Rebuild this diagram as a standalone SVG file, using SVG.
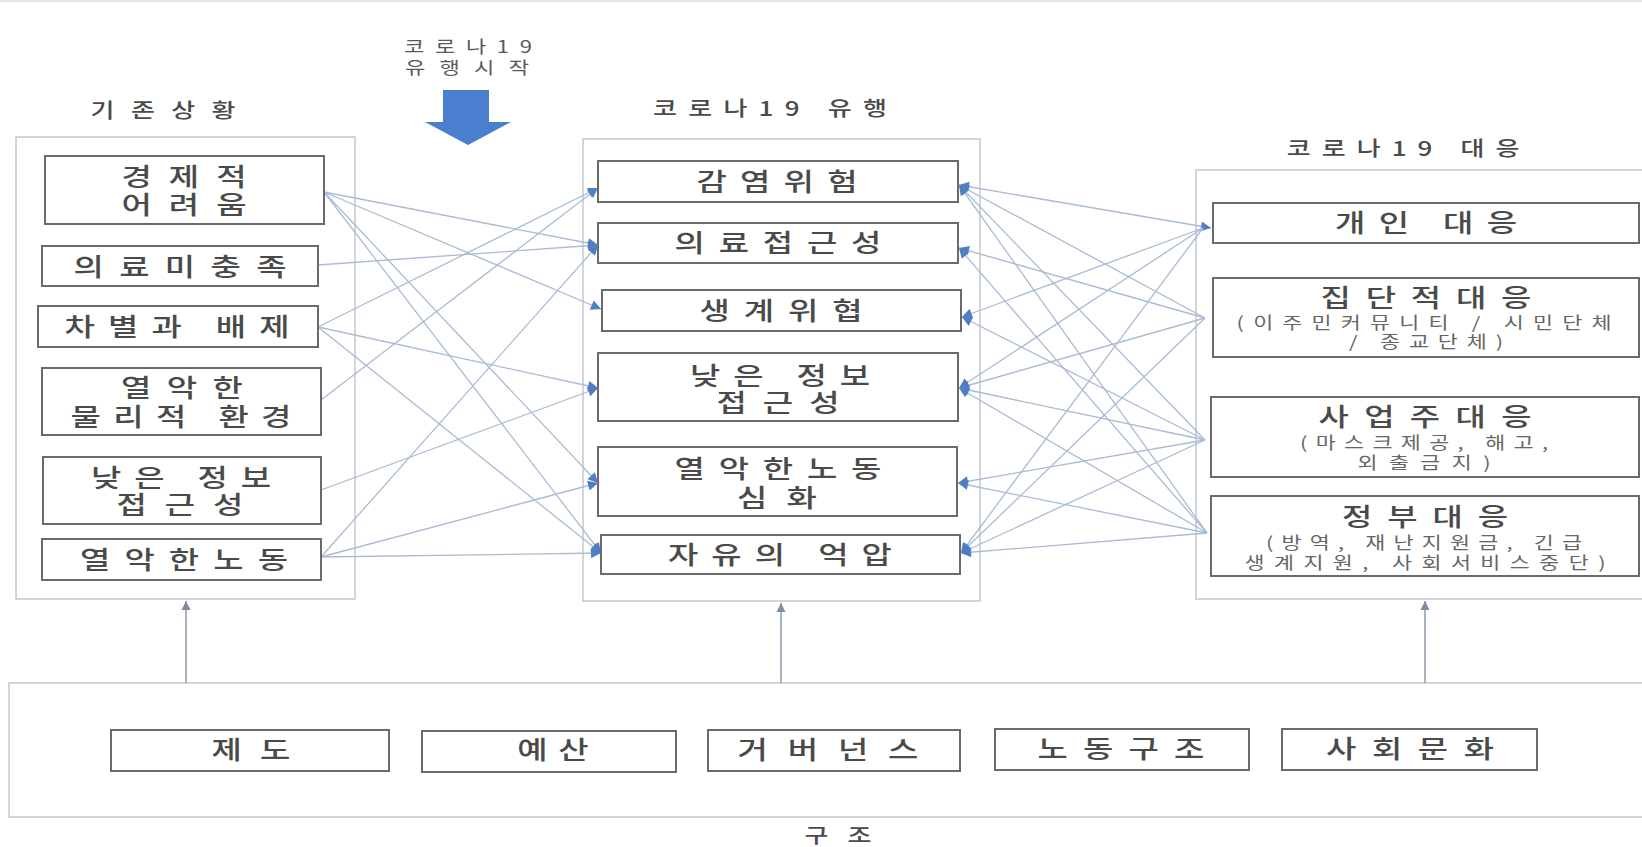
<svg xmlns="http://www.w3.org/2000/svg" width="1642" height="847" viewBox="0 0 1642 847">
<defs>
<style>
.bg{fill:#ffffff}
.cont{fill:none;stroke:#c4c9cf;stroke-width:1.5}
.box{fill:#ffffff;stroke:#6a6a6a;stroke-width:2}
.t{font-family:"Noto Sans CJK KR","Noto Sans",sans-serif;font-size:25px;fill:#4a4a4a;text-anchor:middle;font-weight:500}
.s{font-family:"Noto Sans CJK KR","Noto Sans",sans-serif;font-size:16.5px;fill:#666666;text-anchor:middle}
.h{font-family:"Noto Sans CJK KR","Noto Sans",sans-serif;font-size:20px;fill:#4a4a4a;text-anchor:middle;font-weight:500}
.hs{font-family:"Noto Sans CJK KR","Noto Sans",sans-serif;font-size:17px;fill:#5a5a5a;text-anchor:middle}
.ln{fill:none;stroke:#a9bcd3;stroke-width:1.3}
.up{fill:none;stroke:#8d9aad;stroke-width:1.5}
</style>
<marker id="ah" viewBox="0 0 10 10" refX="10" refY="5" markerWidth="15" markerHeight="10" markerUnits="userSpaceOnUse" orient="auto-start-reverse">
<path d="M0,0 L10,5 L0,10 z" fill="#4f7fc2"/>
</marker>
<marker id="au" viewBox="0 0 10 10" refX="10" refY="5" markerWidth="9" markerHeight="10" markerUnits="userSpaceOnUse" orient="auto">
<path d="M0,0 L10,5 L0,10 z" fill="#7d8ca3"/>
</marker>
</defs>
<rect class="bg" x="0" y="0" width="1642" height="847"/>
<rect x="0" y="0" width="1642" height="2" fill="#e6e6e6"/>

<g id="hdr-start">
<text class="hs" transform="matrix(1.3,0,0,1,468,0)" x="0" y="53" textLength="98.5" lengthAdjust="spacing">코로나19</text>
<text class="hs" transform="matrix(1.3,0,0,1,467,0)" x="0" y="74" textLength="95.4" lengthAdjust="spacing">유행시작</text>
<path d="M443,90 L489,90 L489,122 L511,122 L468,145 L425,122 L443,122 Z" fill="#4a7fcf"/>
</g>

<g id="col-existing">
<text class="h" transform="matrix(1.3,0,0,1,163,0)" x="0" y="118" textLength="111.5" lengthAdjust="spacing">기존상황</text>
<rect class="cont" x="16" y="137" width="339" height="462"/>
</g>
<g id="col-pandemic">
<text class="h" transform="matrix(1.3,0,0,1,770,0)" x="0" y="116" textLength="180" lengthAdjust="spacing">코로나19 유행</text>
<rect class="cont" x="583" y="139" width="397" height="462"/>
</g>
<g id="col-response">
<text class="h" transform="matrix(1.3,0,0,1,1403,0)" x="0" y="156" textLength="179" lengthAdjust="spacing">코로나19 대응</text>
<rect class="cont" x="1196" y="170" width="470" height="429"/>
</g>
<g id="structure">
<rect class="cont" x="9" y="683" width="1660" height="134"/>
<text class="h" transform="matrix(1.3,0,0,1,838,0)" x="0" y="843" textLength="51.5" lengthAdjust="spacing">구조</text>
</g>

<g id="connectors">
<line class="ln" x1="324" y1="192" x2="598" y2="245" marker-end="url(#ah)"/>
<line class="ln" x1="324" y1="192" x2="601" y2="309" marker-end="url(#ah)"/>
<line class="ln" x1="324" y1="192" x2="598" y2="483" marker-end="url(#ah)"/>
<line class="ln" x1="324" y1="192" x2="601" y2="553" marker-end="url(#ah)"/>
<line class="ln" x1="318" y1="265" x2="598" y2="245" marker-end="url(#ah)"/>
<line class="ln" x1="318" y1="327" x2="598" y2="188" marker-end="url(#ah)"/>
<line class="ln" x1="318" y1="327" x2="598" y2="388" marker-end="url(#ah)"/>
<line class="ln" x1="318" y1="327" x2="601" y2="553" marker-end="url(#ah)"/>
<line class="ln" x1="321" y1="400" x2="598" y2="188" marker-end="url(#ah)"/>
<line class="ln" x1="321" y1="490" x2="598" y2="388" marker-end="url(#ah)"/>
<line class="ln" x1="321" y1="557" x2="598" y2="245" marker-end="url(#ah)"/>
<line class="ln" x1="321" y1="557" x2="598" y2="483" marker-end="url(#ah)"/>
<line class="ln" x1="321" y1="557" x2="601" y2="553" marker-end="url(#ah)"/>

<line class="ln" x1="1211" y1="228" x2="959" y2="185" marker-start="url(#ah)" marker-end="url(#ah)"/>
<line class="ln" x1="1205" y1="318" x2="959" y2="185" marker-end="url(#ah)"/>
<line class="ln" x1="1205" y1="440" x2="959" y2="185" marker-end="url(#ah)"/>
<line class="ln" x1="1207" y1="533" x2="959" y2="185" marker-end="url(#ah)"/>
<line class="ln" x1="1205" y1="318" x2="959" y2="248" marker-end="url(#ah)"/>
<line class="ln" x1="1207" y1="533" x2="959" y2="248" marker-end="url(#ah)"/>
<line class="ln" x1="1203" y1="228" x2="962" y2="317" marker-end="url(#ah)"/>
<line class="ln" x1="1205" y1="440" x2="962" y2="317" marker-end="url(#ah)"/>
<line class="ln" x1="1203" y1="228" x2="959" y2="388" marker-end="url(#ah)"/>
<line class="ln" x1="1205" y1="318" x2="959" y2="388" marker-end="url(#ah)"/>
<line class="ln" x1="1205" y1="440" x2="959" y2="388" marker-end="url(#ah)"/>
<line class="ln" x1="1207" y1="533" x2="959" y2="388" marker-end="url(#ah)"/>
<line class="ln" x1="1205" y1="440" x2="958" y2="483" marker-end="url(#ah)"/>
<line class="ln" x1="1207" y1="533" x2="958" y2="483" marker-end="url(#ah)"/>
<line class="ln" x1="1203" y1="228" x2="961" y2="553" marker-end="url(#ah)"/>
<line class="ln" x1="1205" y1="318" x2="961" y2="553" marker-end="url(#ah)"/>
<line class="ln" x1="1205" y1="440" x2="961" y2="553" marker-end="url(#ah)"/>
<line class="ln" x1="1207" y1="533" x2="961" y2="553" marker-end="url(#ah)"/>

<line class="up" x1="186" y1="683" x2="186" y2="601" marker-end="url(#au)"/>
<line class="up" x1="781" y1="683" x2="781" y2="603" marker-end="url(#au)"/>
<line class="up" x1="1425" y1="683" x2="1425" y2="601" marker-end="url(#au)"/>
</g>

<g id="n-econ"><rect class="box" x="45" y="156" width="279" height="68"/>
<text class="t" transform="matrix(1.32,0,0,1,184,0)" x="0" y="186" textLength="94.7" lengthAdjust="spacing">경제적</text>
<text class="t" transform="matrix(1.32,0,0,1,184,0)" x="0" y="214" textLength="94.7" lengthAdjust="spacing">어려움</text></g>
<g id="n-unmet"><rect class="box" x="42" y="246" width="276" height="40"/>
<text class="t" transform="matrix(1.32,0,0,1,180,0)" x="0" y="276" textLength="161.4" lengthAdjust="spacing">의료미충족</text></g>
<g id="n-discrim"><rect class="box" x="38" y="306" width="280" height="41"/>
<text class="t" transform="matrix(1.32,0,0,1,177,0)" x="0" y="336" textLength="170.5" lengthAdjust="spacing">차별과 배제</text></g>
<g id="n-physical"><rect class="box" x="42" y="368" width="279" height="67"/>
<text class="t" transform="matrix(1.32,0,0,1,182,0)" x="0" y="397" textLength="92.4" lengthAdjust="spacing">열악한</text>
<text class="t" transform="matrix(1.32,0,0,1,181,0)" x="0" y="426" textLength="167.4" lengthAdjust="spacing">물리적 환경</text></g>
<g id="n-info-l"><rect class="box" x="43" y="457" width="278" height="67"/>
<text class="t" transform="matrix(1.32,0,0,1,181,0)" x="0" y="487" textLength="136.4" lengthAdjust="spacing">낮은 정보</text>
<text class="t" transform="matrix(1.32,0,0,1,180,0)" x="0" y="514" textLength="96.2" lengthAdjust="spacing">접근성</text></g>
<g id="n-labor-l"><rect class="box" x="42" y="539" width="279" height="41"/>
<text class="t" transform="matrix(1.32,0,0,1,184,0)" x="0" y="569" textLength="157.6" lengthAdjust="spacing">열악한노동</text></g>

<g id="n-infect"><rect class="box" x="598" y="161" width="360" height="41"/>
<text class="t" transform="matrix(1.32,0,0,1,777,0)" x="0" y="191" textLength="122" lengthAdjust="spacing">감염위험</text></g>
<g id="n-access"><rect class="box" x="598" y="223" width="360" height="40"/>
<text class="t" transform="matrix(1.32,0,0,1,778,0)" x="0" y="252" textLength="156.8" lengthAdjust="spacing">의료접근성</text></g>
<g id="n-liveli"><rect class="box" x="602" y="290" width="359" height="41"/>
<text class="t" transform="matrix(1.32,0,0,1,781,0)" x="0" y="320" textLength="123.5" lengthAdjust="spacing">생계위협</text></g>
<g id="n-info-m"><rect class="box" x="598" y="353" width="360" height="68"/>
<text class="t" transform="matrix(1.32,0,0,1,780,0)" x="0" y="385" textLength="136.4" lengthAdjust="spacing">낮은 정보</text>
<text class="t" transform="matrix(1.32,0,0,1,778,0)" x="0" y="412" textLength="93.2" lengthAdjust="spacing">접근성</text></g>
<g id="n-labor-m"><rect class="box" x="598" y="447" width="359" height="69"/>
<text class="t" transform="matrix(1.32,0,0,1,778,0)" x="0" y="478" textLength="156.8" lengthAdjust="spacing">열악한노동</text>
<text class="t" transform="matrix(1.32,0,0,1,777,0)" x="0" y="507" textLength="60.6" lengthAdjust="spacing">심화</text></g>
<g id="n-freedom"><rect class="box" x="601" y="535" width="359" height="39"/>
<text class="t" transform="matrix(1.32,0,0,1,780,0)" x="0" y="564" textLength="169.7" lengthAdjust="spacing">자유의 억압</text></g>

<g id="n-indiv"><rect class="box" x="1213" y="203" width="426" height="40"/>
<text class="t" transform="matrix(1.32,0,0,1,1426,0)" x="0" y="232" textLength="137.9" lengthAdjust="spacing">개인 대응</text></g>
<g id="n-collective"><rect class="box" x="1213" y="278" width="426" height="79"/>
<text class="t" transform="matrix(1.32,0,0,1,1426,0)" x="0" y="307" textLength="159.8" lengthAdjust="spacing">집단적대응</text>
<text class="s" transform="matrix(1.32,0,0,1,1424,0)" x="0" y="329" textLength="284" lengthAdjust="spacing">(이주민커뮤니티 / 시민단체</text>
<text class="s" transform="matrix(1.32,0,0,1,1426,0)" x="0" y="348" textLength="116.7" lengthAdjust="spacing">/ 종교단체)</text></g>
<g id="n-employer"><rect class="box" x="1211" y="397" width="428" height="80"/>
<text class="t" transform="matrix(1.32,0,0,1,1425,0)" x="0" y="426" textLength="161.4" lengthAdjust="spacing">사업주대응</text>
<text class="s" transform="matrix(1.32,0,0,1,1424,0)" x="0" y="449" textLength="187.9" lengthAdjust="spacing">(마스크제공, 해고,</text>
<text class="s" transform="matrix(1.32,0,0,1,1424,0)" x="0" y="469" textLength="100.8" lengthAdjust="spacing">외출금지)</text></g>
<g id="n-gov"><rect class="box" x="1211" y="496" width="428" height="80"/>
<text class="t" transform="matrix(1.32,0,0,1,1425,0)" x="0" y="526" textLength="125.8" lengthAdjust="spacing">정부대응</text>
<text class="s" transform="matrix(1.32,0,0,1,1424,0)" x="0" y="549" textLength="239.4" lengthAdjust="spacing">(방역, 재난지원금, 긴급</text>
<text class="s" transform="matrix(1.32,0,0,1,1425,0)" x="0" y="569" textLength="273.5" lengthAdjust="spacing">생계지원, 사회서비스중단)</text></g>

<g id="n-system"><rect class="box" x="111" y="730" width="278" height="41"/>
<text class="t" transform="matrix(1.32,0,0,1,251,0)" x="0" y="759" textLength="59.8" lengthAdjust="spacing">제도</text></g>
<g id="n-budget"><rect class="box" x="422" y="731" width="254" height="41"/>
<text class="t" transform="matrix(1.32,0,0,1,553,0)" x="0" y="759" textLength="54" lengthAdjust="spacing">예산</text></g>
<g id="n-gov2"><rect class="box" x="708" y="730" width="252" height="41"/>
<text class="t" transform="matrix(1.32,0,0,1,828,0)" x="0" y="759" textLength="137.1" lengthAdjust="spacing">거버넌스</text></g>
<g id="n-laborstr"><rect class="box" x="995" y="729" width="254" height="41"/>
<text class="t" transform="matrix(1.32,0,0,1,1121,0)" x="0" y="758" textLength="126.5" lengthAdjust="spacing">노동구조</text></g>
<g id="n-culture"><rect class="box" x="1282" y="729" width="255" height="41"/>
<text class="t" transform="matrix(1.32,0,0,1,1410,0)" x="0" y="758" textLength="127.3" lengthAdjust="spacing">사회문화</text></g>
</svg>
